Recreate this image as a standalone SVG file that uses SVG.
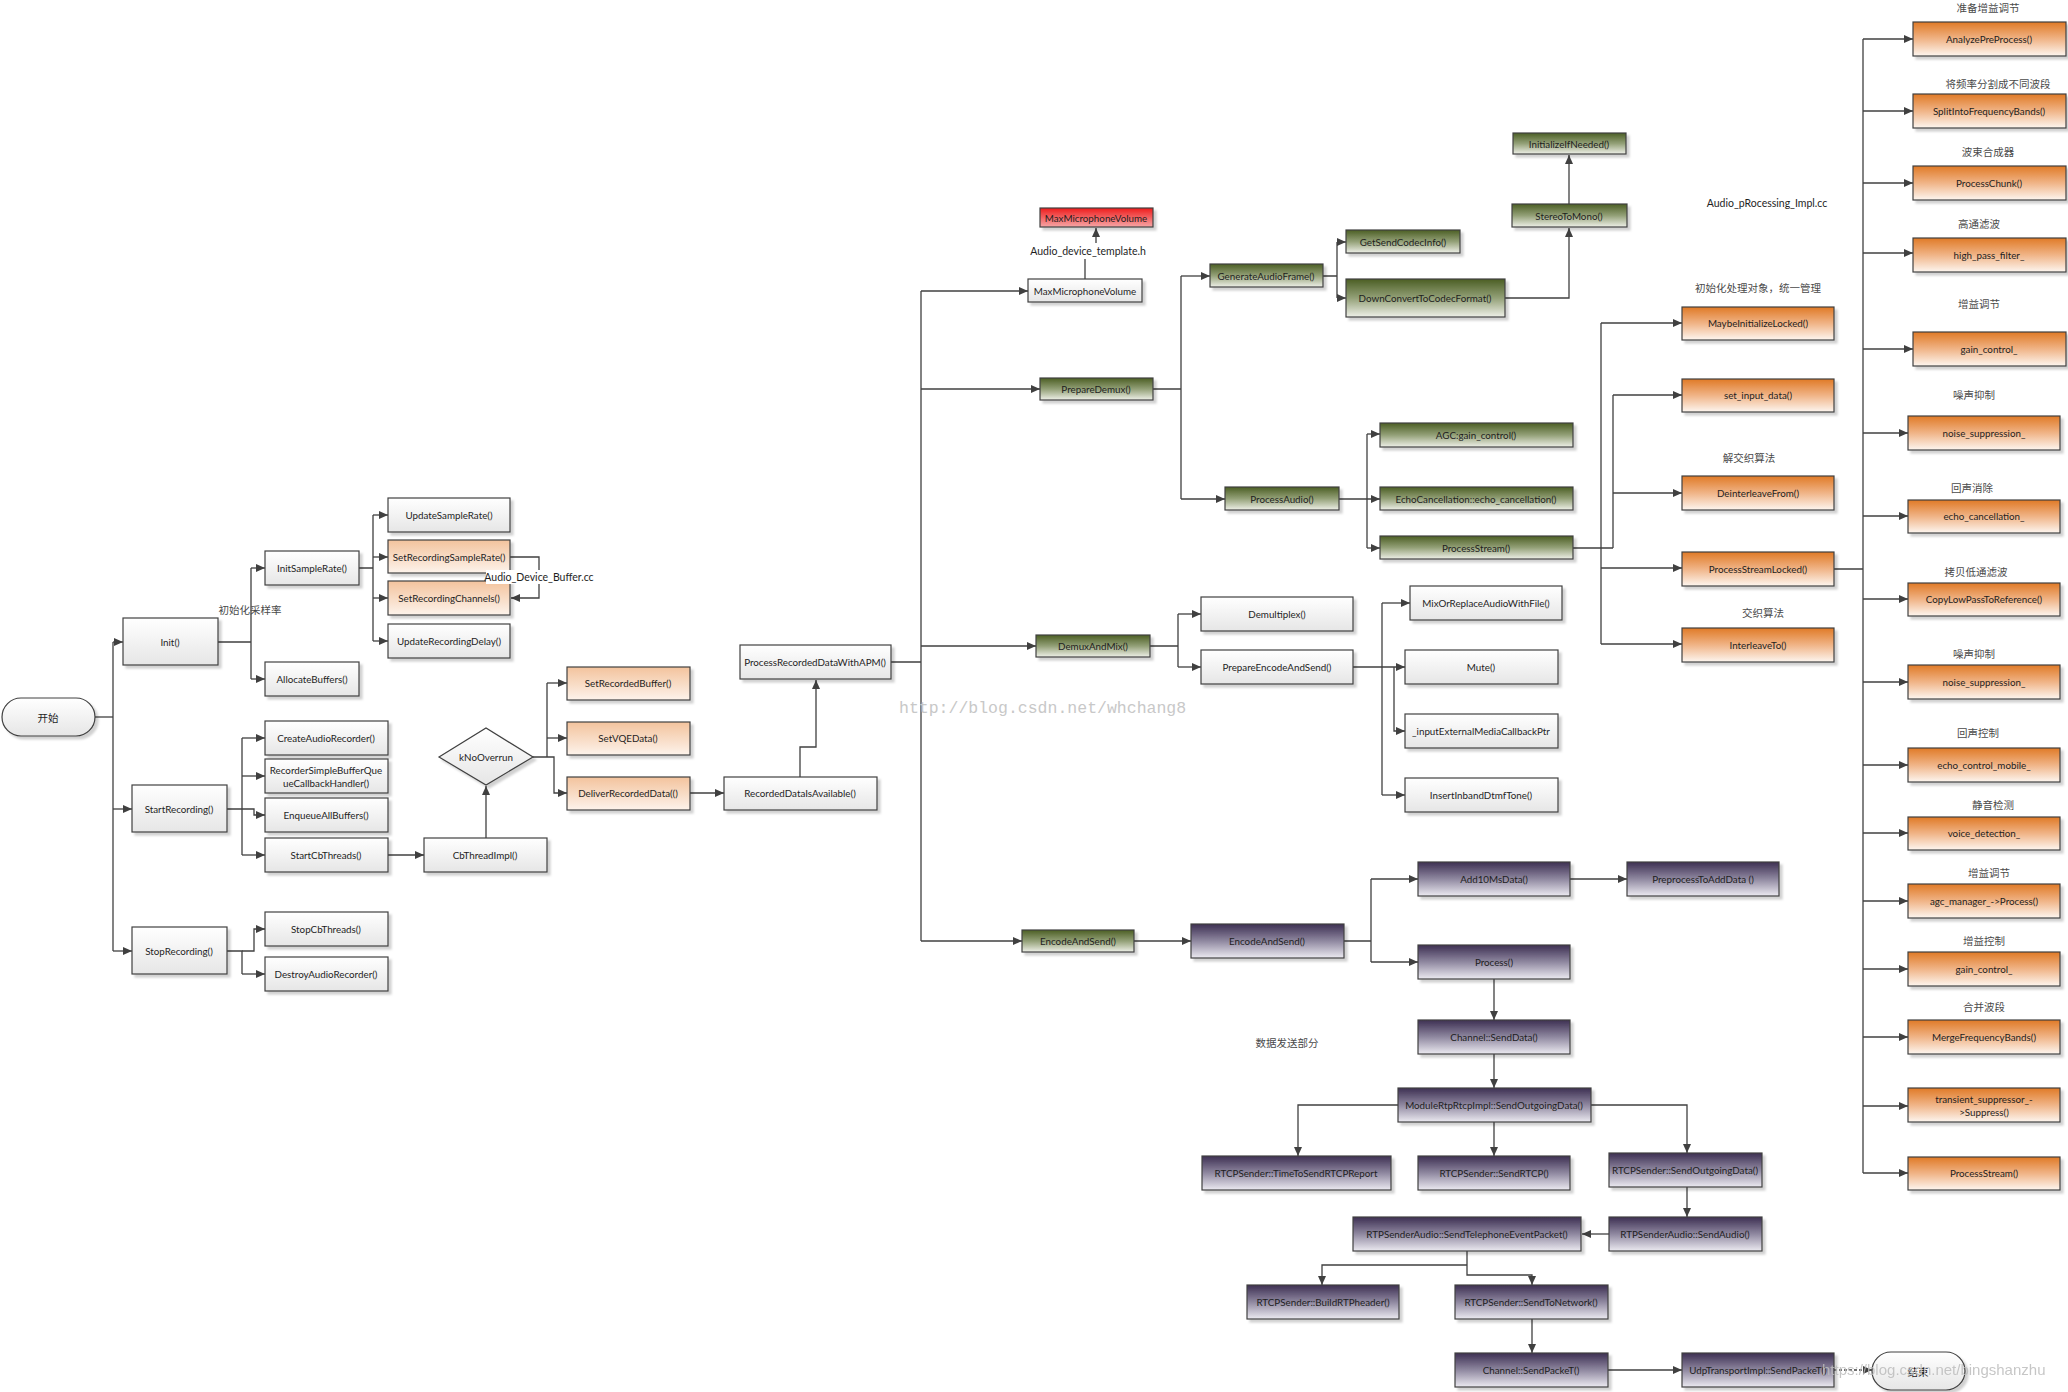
<svg xmlns="http://www.w3.org/2000/svg" width="2068" height="1392" viewBox="0 0 2068 1392">
<style>
.b{stroke:#404040;stroke-width:1.2;filter:url(#sh)}
.w{fill:url(#gW)}.p{fill:url(#gP)}.o{fill:url(#gO)}.g{fill:url(#gG)}.v{fill:url(#gV)}.r{fill:url(#gR)}
.t{font-family:Lato,"Liberation Sans",Arial,sans-serif;font-size:9.8px;fill:#1e1e1e;text-anchor:middle;dominant-baseline:central}
.cn{font-family:"Noto Sans CJK SC","Liberation Sans",sans-serif;font-size:10.5px;fill:#4a4a4a;text-anchor:middle;dominant-baseline:central}
.lb{font-family:Lato,"Liberation Sans",Arial,sans-serif;font-size:10.5px;fill:#1e1e1e;text-anchor:middle;dominant-baseline:central}
#connectors path{fill:none;stroke:#404040;stroke-width:1.3}
#connectors path.a{marker-end:url(#ar)}
#connectors path.d{stroke-dasharray:3 2}
.wm{font-family:"Liberation Mono",monospace;font-size:16.5px;fill:#c8c8c8}
.wm2{font-family:"Liberation Sans",Arial,sans-serif;font-size:15px;fill:#bdbdbd;opacity:0.85}
</style>
<defs>
<linearGradient id="gW" x1="0" y1="0" x2="0" y2="1"><stop offset="0" stop-color="#ffffff"/><stop offset="1" stop-color="#e6e6e6"/></linearGradient>
<linearGradient id="gP" x1="0" y1="0" x2="0" y2="1"><stop offset="0" stop-color="#f3c39d"/><stop offset="1" stop-color="#fdf3eb"/></linearGradient>
<linearGradient id="gO" x1="0" y1="0" x2="0" y2="1"><stop offset="0" stop-color="#e07a26"/><stop offset="0.5" stop-color="#f0b487"/><stop offset="1" stop-color="#fdf6f0"/></linearGradient>
<linearGradient id="gG" x1="0" y1="0" x2="0" y2="1"><stop offset="0" stop-color="#4b5e24"/><stop offset="0.5" stop-color="#93a077"/><stop offset="1" stop-color="#eef0e8"/></linearGradient>
<linearGradient id="gV" x1="0" y1="0" x2="0" y2="1"><stop offset="0" stop-color="#3d2f52"/><stop offset="0.5" stop-color="#8f88a0"/><stop offset="1" stop-color="#eceaf1"/></linearGradient>
<linearGradient id="gR" x1="0" y1="0" x2="0" y2="1"><stop offset="0" stop-color="#ee1c1c"/><stop offset="1" stop-color="#f6a6a6"/></linearGradient>
<filter id="sh" x="-10%" y="-20%" width="130%" height="160%"><feDropShadow dx="3" dy="3" stdDeviation="1" flood-color="#000" flood-opacity="0.18"/></filter>
<marker id="ar" markerUnits="userSpaceOnUse" markerWidth="10" markerHeight="9" refX="9" refY="4" orient="auto"><path d="M0,0 L9,4 L0,8 z" fill="#404040"/></marker>
</defs>
<rect width="2068" height="1392" fill="#ffffff"/>

<g id="connectors">
<path d="M95,717 H113"/><path d="M113,642 V951"/>
<path class="a" d="M113,642 H123"/><path class="a" d="M113,809 H132"/><path class="a" d="M113,951 H132"/>
<path d="M218,642 H251 M251,568 V679"/><path class="a" d="M251,568 H265"/><path class="a" d="M251,679 H265"/>
<path d="M359,568 H373 M373,515 V641"/><path class="a" d="M373,515 H388"/><path class="a" d="M373,557 H388"/><path class="a" d="M373,598 H388"/><path class="a" d="M373,641 H388"/>
<path class="a" d="M510,557 H539 V598 H511"/>
<path d="M227,809 H242 M242,738 V855"/><path class="a" d="M242,738 H265"/><path class="a" d="M242,776 H265"/><path class="a" d="M242,809 H254 V815 H265"/><path class="a" d="M242,855 H265"/>
<path class="a" d="M388,855 H424"/>
<path class="a" d="M486,838 V786"/>
<path d="M533,757 H547 M547,683 V757"/><path class="a" d="M547,683 H567"/><path class="a" d="M547,738 H567"/><path class="a" d="M547,757 H554 V793 H567"/>
<path class="a" d="M690,793 H724"/>
<path class="a" d="M800,777 V747 H816 V680"/>
<path d="M227,951 H242 V974"/><path class="a" d="M242,974 H265"/><path class="a" d="M242,951 H254 V929 H265"/>

<path d="M891,662 H921 M921,291 V941"/>
<path class="a" d="M921,291 H1028"/><path class="a" d="M921,389 H1040"/><path class="a" d="M921,646 H1036"/><path class="a" d="M921,941 H1022"/>
<path d="M1085,279 V259"/><path class="a" d="M1096,243 V228"/>
<path d="M1153,389 H1181 M1181,276 V499"/><path class="a" d="M1181,276 H1210"/><path class="a" d="M1181,499 H1225"/>
<path d="M1323,276 H1337 M1337,242 V298"/><path class="a" d="M1337,242 H1346"/><path class="a" d="M1337,298 H1346"/>
<path class="a" d="M1505,298 H1569 V228"/>
<path class="a" d="M1569,204 V155"/>
<path class="a" d="M1339,499 H1380"/><path d="M1367,434 V548"/><path class="a" d="M1367,434 H1380"/><path class="a" d="M1367,548 H1380"/>
<path d="M1573,548 H1613 M1601,323 V644 M1613,395 V548"/>
<path class="a" d="M1601,323 H1682"/><path class="a" d="M1613,395 H1682"/><path class="a" d="M1613,493 H1682"/><path class="a" d="M1601,568 H1682"/><path class="a" d="M1601,644 H1682"/>
<path d="M1834,569 H1863 M1863,39 V1173"/>
<path class="a" d="M1863,39 H1913"/><path class="a" d="M1863,111 H1913"/><path class="a" d="M1863,183 H1913"/><path class="a" d="M1863,253 H1913"/><path class="a" d="M1863,349 H1913"/>
<path class="a" d="M1863,433 H1908"/><path class="a" d="M1863,516 H1908"/><path class="a" d="M1863,599 H1908"/><path class="a" d="M1863,682 H1908"/><path class="a" d="M1863,765 H1908"/><path class="a" d="M1863,833 H1908"/><path class="a" d="M1863,901 H1908"/><path class="a" d="M1863,969 H1908"/><path class="a" d="M1863,1037 H1908"/><path class="a" d="M1863,1106 H1908"/><path class="a" d="M1863,1173 H1908"/>
<path d="M1150,646 H1178 M1178,614 V667"/><path class="a" d="M1178,614 H1201"/><path class="a" d="M1178,667 H1201"/>
<path class="a" d="M1353,667 H1405"/><path d="M1382,603 V795"/><path class="a" d="M1382,603 H1410"/><path class="a" d="M1382,795 H1405"/><path class="a" d="M1394,667 V731 H1405"/>
<path class="a" d="M1134,941 H1191"/>
<path d="M1344,941 H1371 M1371,879 V962"/><path class="a" d="M1371,879 H1418"/><path class="a" d="M1371,962 H1418"/>
<path class="a" d="M1570,879 H1627"/>
<path class="a" d="M1494,979 V1020"/>
<path class="a" d="M1494,1054 V1088"/>
<path class="a" d="M1398,1105 H1298 V1156"/><path class="a" d="M1494,1122 V1156"/><path class="a" d="M1591,1105 H1687 V1153"/>
<path class="a" d="M1687,1187 V1217"/>
<path class="a" d="M1609,1234 H1582"/>
<path class="a" d="M1467,1251 V1275 H1532 V1285"/><path class="a" d="M1467,1265 H1322 V1285"/>
<path class="a" d="M1532,1319 V1353"/>
<path class="a" d="M1608,1370 H1682"/>
<path class="a d" d="M1834,1370 H1872"/>
</g>

<g id="start"><rect class="b w" x="2" y="698" width="93" height="38" rx="19"/><text class="cn" x="48" y="717" style="fill:#1e1e1e">开始</text></g>
<g id="init"><rect class="b w" x="123" y="618" width="95" height="47"/><text class="t" x="170" y="642">Init()</text></g>
<g id="initSampleRate"><rect class="b w" x="265" y="551" width="94" height="34"/><text class="t" x="312" y="568">InitSampleRate()</text></g>
<g id="allocateBuffers"><rect class="b w" x="265" y="662" width="94" height="34"/><text class="t" x="312" y="679">AllocateBuffers()</text></g>
<g id="updateSampleRate"><rect class="b w" x="388" y="498" width="122" height="34"/><text class="t" x="449" y="515">UpdateSampleRate()</text></g>
<g id="setRecordingSampleRate"><rect class="b p" x="388" y="540" width="122" height="33"/><text class="t" x="449" y="557">SetRecordingSampleRate()</text></g>
<g id="setRecordingChannels"><rect class="b p" x="388" y="581" width="122" height="34"/><text class="t" x="449" y="598">SetRecordingChannels()</text></g>
<g id="updateRecordingDelay"><rect class="b w" x="388" y="624" width="122" height="34"/><text class="t" x="449" y="641">UpdateRecordingDelay()</text></g>
<g id="startRecording"><rect class="b w" x="132" y="785" width="95" height="47"/><text class="t" x="179" y="809">StartRecording()</text></g>
<g id="createAudioRecorder"><rect class="b w" x="265" y="721" width="123" height="34"/><text class="t" x="326" y="738">CreateAudioRecorder()</text></g>
<g id="recorderSimpleBufferQueueCallbackHandler"><rect class="b w" x="265" y="759" width="123" height="34"/><text class="t" x="326" y="770">RecorderSimpleBufferQue</text><text class="t" x="326" y="783">ueCallbackHandler()</text></g>
<g id="enqueueAllBuffers"><rect class="b w" x="265" y="798" width="123" height="34"/><text class="t" x="326" y="815">EnqueueAllBuffers()</text></g>
<g id="startCbThreads"><rect class="b w" x="265" y="838" width="123" height="34"/><text class="t" x="326" y="855">StartCbThreads()</text></g>
<g id="cbThreadImpl"><rect class="b w" x="424" y="838" width="123" height="34"/><text class="t" x="485" y="855">CbThreadImpl()</text></g>
<g id="kNoOverrun"><polygon class="b w" points="439,757 486,728 533,757 486,785"/><text class="t" x="486" y="757">kNoOverrun</text></g>
<g id="stopRecording"><rect class="b w" x="132" y="927" width="95" height="47"/><text class="t" x="179" y="951">StopRecording()</text></g>
<g id="stopCbThreads"><rect class="b w" x="265" y="912" width="123" height="34"/><text class="t" x="326" y="929">StopCbThreads()</text></g>
<g id="destroyAudioRecorder"><rect class="b w" x="265" y="957" width="123" height="34"/><text class="t" x="326" y="974">DestroyAudioRecorder()</text></g>
<g id="setRecordedBuffer"><rect class="b p" x="567" y="667" width="123" height="33"/><text class="t" x="628" y="683">SetRecordedBuffer()</text></g>
<g id="setVQEData"><rect class="b p" x="567" y="722" width="123" height="33"/><text class="t" x="628" y="738">SetVQEData()</text></g>
<g id="deliverRecordedData"><rect class="b p" x="567" y="777" width="123" height="33"/><text class="t" x="628" y="793">DeliverRecordedData(()</text></g>
<g id="recordedDataIsAvailable"><rect class="b w" x="724" y="777" width="153" height="33"/><text class="t" x="800" y="793">RecordedDataIsAvailable()</text></g>
<g id="processRecordedDataWithAPM"><rect class="b w" x="740" y="645" width="151" height="34"/><text class="t" x="815" y="662">ProcessRecordedDataWithAPM()</text></g>

<g id="maxMicrophoneVolumeRed"><rect class="b r" x="1040" y="208" width="113" height="19"/><text class="t" x="1096" y="218">MaxMicrophoneVolume</text></g>
<g id="maxMicrophoneVolume"><rect class="b w" x="1028" y="279" width="114" height="23"/><text class="t" x="1085" y="291">MaxMicrophoneVolume</text></g>
<g id="prepareDemux"><rect class="b g" x="1040" y="378" width="113" height="22"/><text class="t" x="1096" y="389">PrepareDemux()</text></g>
<g id="generateAudioFrame"><rect class="b g" x="1210" y="264" width="113" height="23"/><text class="t" x="1266" y="276">GenerateAudioFrame()</text></g>
<g id="getSendCodecInfo"><rect class="b g" x="1346" y="230" width="114" height="23"/><text class="t" x="1403" y="242">GetSendCodecInfo()</text></g>
<g id="downConvertToCodecFormat"><rect class="b g" x="1346" y="279" width="159" height="38"/><text class="t" x="1425" y="298">DownConvertToCodecFormat()</text></g>
<g id="stereoToMono"><rect class="b g" x="1512" y="204" width="115" height="23"/><text class="t" x="1569" y="216">StereoToMono()</text></g>
<g id="initializeIfNeeded"><rect class="b g" x="1513" y="133" width="113" height="21"/><text class="t" x="1569" y="144">InitializeIfNeeded()</text></g>
<g id="processAudio"><rect class="b g" x="1225" y="487" width="114" height="23"/><text class="t" x="1282" y="499">ProcessAudio()</text></g>
<g id="agcGainControl"><rect class="b g" x="1380" y="423" width="193" height="24"/><text class="t" x="1476" y="435">AGC:gain_control()</text></g>
<g id="echoCancellationGreen"><rect class="b g" x="1380" y="487" width="193" height="23"/><text class="t" x="1476" y="499">EchoCancellation::echo_cancellation()</text></g>
<g id="processStreamGreen"><rect class="b g" x="1380" y="536" width="193" height="23"/><text class="t" x="1476" y="548">ProcessStream()</text></g>
<g id="demuxAndMix"><rect class="b g" x="1036" y="635" width="114" height="22"/><text class="t" x="1093" y="646">DemuxAndMix()</text></g>
<g id="demultiplex"><rect class="b w" x="1201" y="597" width="152" height="34"/><text class="t" x="1277" y="614">Demultiplex()</text></g>
<g id="prepareEncodeAndSend"><rect class="b w" x="1201" y="650" width="152" height="34"/><text class="t" x="1277" y="667">PrepareEncodeAndSend()</text></g>
<g id="mixOrReplaceAudioWithFile"><rect class="b w" x="1410" y="586" width="152" height="34"/><text class="t" x="1486" y="603">MixOrReplaceAudioWithFile()</text></g>
<g id="mute"><rect class="b w" x="1405" y="650" width="153" height="34"/><text class="t" x="1481" y="667">Mute()</text></g>
<g id="inputExternalMediaCallbackPtr"><rect class="b w" x="1405" y="714" width="153" height="34"/><text class="t" x="1481" y="731">_inputExternalMediaCallbackPtr</text></g>
<g id="insertInbandDtmfTone"><rect class="b w" x="1405" y="778" width="153" height="34"/><text class="t" x="1481" y="795">InsertInbandDtmfTone()</text></g>
<g id="encodeAndSendGreen"><rect class="b g" x="1022" y="930" width="112" height="22"/><text class="t" x="1078" y="941">EncodeAndSend()</text></g>
<g id="encodeAndSend"><rect class="b v" x="1191" y="924" width="153" height="34"/><text class="t" x="1267" y="941">EncodeAndSend()</text></g>
<g id="add10MsData"><rect class="b v" x="1418" y="862" width="152" height="34"/><text class="t" x="1494" y="879">Add10MsData()</text></g>
<g id="preprocessToAddData"><rect class="b v" x="1627" y="862" width="152" height="34"/><text class="t" x="1703" y="879">PreprocessToAddData ()</text></g>
<g id="process"><rect class="b v" x="1418" y="945" width="152" height="34"/><text class="t" x="1494" y="962">Process()</text></g>
<g id="channelSendData"><rect class="b v" x="1418" y="1020" width="152" height="34"/><text class="t" x="1494" y="1037">Channel::SendData()</text></g>
<g id="moduleRtpRtcpImpl"><rect class="b v" x="1398" y="1088" width="193" height="34"/><text class="t" x="1494" y="1105">ModuleRtpRtcpImpl::SendOutgoingData()</text></g>
<g id="timeToSendRTCPReport"><rect class="b v" x="1202" y="1156" width="189" height="34"/><text class="t" x="1296" y="1173">RTCPSender::TimeToSendRTCPReport</text></g>
<g id="sendRTCP"><rect class="b v" x="1418" y="1156" width="152" height="34"/><text class="t" x="1494" y="1173">RTCPSender::SendRTCP()</text></g>
<g id="rtcpSendOutgoingData"><rect class="b v" x="1609" y="1153" width="153" height="34"/><text class="t" x="1685" y="1170">RTCPSender::SendOutgoingData()</text></g>
<g id="sendAudio"><rect class="b v" x="1609" y="1217" width="153" height="34"/><text class="t" x="1685" y="1234">RTPSenderAudio::SendAudio()</text></g>
<g id="sendTelephoneEventPacket"><rect class="b v" x="1353" y="1217" width="228" height="34"/><text class="t" x="1467" y="1234">RTPSenderAudio::SendTelephoneEventPacket()</text></g>
<g id="buildRTPheader"><rect class="b v" x="1247" y="1285" width="152" height="34"/><text class="t" x="1323" y="1302">RTCPSender::BuildRTPheader()</text></g>
<g id="sendToNetwork"><rect class="b v" x="1455" y="1285" width="153" height="34"/><text class="t" x="1531" y="1302">RTCPSender::SendToNetwork()</text></g>
<g id="channelSendPacket"><rect class="b v" x="1455" y="1353" width="153" height="34"/><text class="t" x="1531" y="1370">Channel::SendPackeT()</text></g>
<g id="udpTransportSendPacket"><rect class="b v" x="1682" y="1353" width="152" height="34"/><text class="t" x="1758" y="1370">UdpTransportImpl::SendPackeT()</text></g>
<g id="end"><rect class="b w" x="1872" y="1352" width="93" height="38" rx="19"/><text class="cn" x="1918" y="1371" style="fill:#1e1e1e">结束</text></g>

<g id="maybeInitializeLocked"><rect class="b o" x="1682" y="307" width="152" height="33"/><text class="t" x="1758" y="323">MaybeInitializeLocked()</text></g>
<g id="setInputData"><rect class="b o" x="1682" y="379" width="152" height="33"/><text class="t" x="1758" y="395">set_input_data()</text></g>
<g id="deinterleaveFrom"><rect class="b o" x="1682" y="476" width="152" height="34"/><text class="t" x="1758" y="493">DeinterleaveFrom()</text></g>
<g id="processStreamLocked"><rect class="b o" x="1682" y="552" width="152" height="34"/><text class="t" x="1758" y="569">ProcessStreamLocked()</text></g>
<g id="interleaveTo"><rect class="b o" x="1682" y="628" width="152" height="34"/><text class="t" x="1758" y="645">InterleaveTo()</text></g>
<g id="analyzePreProcess"><rect class="b o" x="1913" y="22" width="153" height="34"/><text class="t" x="1989" y="39">AnalyzePreProcess()</text></g>
<g id="splitIntoFrequencyBands"><rect class="b o" x="1913" y="94" width="153" height="34"/><text class="t" x="1989" y="111">SplitIntoFrequencyBands()</text></g>
<g id="processChunk"><rect class="b o" x="1913" y="166" width="153" height="34"/><text class="t" x="1989" y="183">ProcessChunk()</text></g>
<g id="highPassFilter"><rect class="b o" x="1913" y="238" width="153" height="34"/><text class="t" x="1989" y="255">high_pass_filter_</text></g>
<g id="gainControl1"><rect class="b o" x="1913" y="332" width="153" height="34"/><text class="t" x="1989" y="349">gain_control_</text></g>
<g id="noiseSuppression1"><rect class="b o" x="1908" y="416" width="152" height="34"/><text class="t" x="1984" y="433">noise_suppression_</text></g>
<g id="echoCancellation"><rect class="b o" x="1908" y="500" width="152" height="33"/><text class="t" x="1984" y="516">echo_cancellation_</text></g>
<g id="copyLowPassToReference"><rect class="b o" x="1908" y="583" width="152" height="33"/><text class="t" x="1984" y="599">CopyLowPassToReference()</text></g>
<g id="noiseSuppression2"><rect class="b o" x="1908" y="665" width="152" height="34"/><text class="t" x="1984" y="682">noise_suppression_</text></g>
<g id="echoControlMobile"><rect class="b o" x="1908" y="748" width="152" height="34"/><text class="t" x="1984" y="765">echo_control_mobile_</text></g>
<g id="voiceDetection"><rect class="b o" x="1908" y="817" width="152" height="33"/><text class="t" x="1984" y="833">voice_detection_</text></g>
<g id="agcManagerProcess"><rect class="b o" x="1908" y="884" width="152" height="34"/><text class="t" x="1984" y="901">agc_manager_-&gt;Process()</text></g>
<g id="gainControl2"><rect class="b o" x="1908" y="952" width="152" height="34"/><text class="t" x="1984" y="969">gain_control_</text></g>
<g id="mergeFrequencyBands"><rect class="b o" x="1908" y="1020" width="152" height="34"/><text class="t" x="1984" y="1037">MergeFrequencyBands()</text></g>
<g id="transientSuppressor"><rect class="b o" x="1908" y="1088" width="152" height="34"/><text class="t" x="1984" y="1099">transient_suppressor_-</text><text class="t" x="1984" y="1112">&gt;Suppress()</text></g>
<g id="processStreamOrange"><rect class="b o" x="1908" y="1157" width="152" height="33"/><text class="t" x="1984" y="1173">ProcessStream()</text></g>

<g id="labels">
<text class="cn" x="250" y="609">初始化采样率</text>
<rect x="486" y="570" width="106" height="14" fill="#ffffff"/>
<text class="lb" x="539" y="577">Audio_Device_Buffer.cc</text>
<text class="lb" x="1088" y="251">Audio_device_template.h</text>
<text class="lb" x="1767" y="203">Audio_pRocessing_Impl.cc</text>
<text class="cn" x="1758" y="287">初始化处理对象，统一管理</text>
<text class="cn" x="1749" y="457">解交织算法</text>
<text class="cn" x="1763" y="612">交织算法</text>
<text class="cn" x="1988" y="7">准备增益调节</text>
<text class="cn" x="1998" y="83">将频率分割成不同波段</text>
<text class="cn" x="1988" y="151">波束合成器</text>
<text class="cn" x="1979" y="223">高通滤波</text>
<text class="cn" x="1979" y="303">增益调节</text>
<text class="cn" x="1974" y="394">噪声抑制</text>
<text class="cn" x="1972" y="487">回声消除</text>
<text class="cn" x="1976" y="571">拷贝低通滤波</text>
<text class="cn" x="1974" y="653">噪声抑制</text>
<text class="cn" x="1978" y="732">回声控制</text>
<text class="cn" x="1993" y="804">静音检测</text>
<text class="cn" x="1989" y="872">增益调节</text>
<text class="cn" x="1984" y="940">增益控制</text>
<text class="cn" x="1984" y="1006">合并波段</text>
<text class="cn" x="1287" y="1042">数据发送部分</text>
<text class="wm" x="899" y="713">http://blog.csdn.net/whchang8</text>
<text class="wm2" x="1822" y="1375">https://blog.csdn.net/bingshanzhu</text>
</g>
</svg>
